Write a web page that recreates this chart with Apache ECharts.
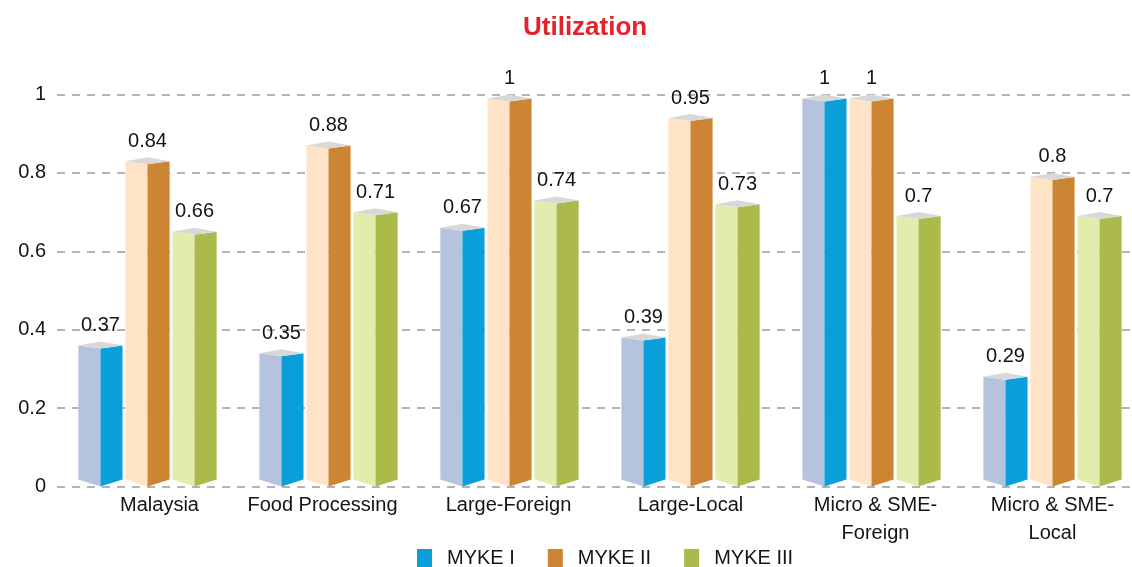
<!DOCTYPE html>
<html>
<head>
<meta charset="utf-8">
<title>Utilization</title>
<script src="https://cdn.jsdelivr.net/npm/echarts@6/dist/echarts.min.js"></script>
<style>
  html, body { margin: 0; padding: 0; background: #fff; }
  #chart { width: 1132px; height: 567px; }
</style>
</head>
<body>
<div id="chart"></div>
<script>
// Utilization by segment for each MYKE survey round
var categories = ['Malaysia', 'Food Processing', 'Large-Foreign', 'Large-Local', 'Micro & SME-Foreign', 'Micro & SME-Local'];
var seriesNames = ['MYKE I', 'MYKE II', 'MYKE III'];
var mykeI = [0.37, 0.35, 0.67, 0.39, 1, 0.29];
var mykeII = [0.84, 0.88, 1, 0.95, 1, 0.8];
var mykeIII = [0.66, 0.71, 0.74, 0.73, 0.7, 0.7];
var yTicks = [0, 0.2, 0.4, 0.6, 0.8, 1];

var FONT = '"Liberation Sans", Arial, sans-serif';

// light (left) face, dark (right) face for each prism
var faceColors = [
  ['#b5c3de', '#0a9fd9'],
  ['#ffe3c6', '#cc8532'],
  ['#e2ecad', '#abba4a']
];
var topColor = '#d8d8d8';

// horizontal nudge (px) for individual category labels
var labelNudge = [12, -6, -1, 0, 4, 0];

function prismRenderer(k) {
  return function (params, api) {
    var idx = api.value(0);
    var val = api.value(1);
    var top = api.coord([idx, val]);
    var base = api.coord([idx, 0]);
    var band = api.size([1, 0])[0];
    var x = top[0] + (k - 1) * band * 0.26;
    var hw = band * 0.122;
    var yv = top[1];
    var y0 = base[1];
    var sideTop = yv + 4, frontTop = yv + 7, sideBot = y0 - 7;
    return {
      type: 'group',
      children: [
        {
          type: 'polygon',
          shape: { points: [[x - hw, sideTop], [x, frontTop], [x, y0], [x - hw, sideBot]] },
          style: { fill: faceColors[k][0] }
        },
        {
          type: 'polygon',
          shape: { points: [[x, frontTop], [x + hw, sideTop], [x + hw, sideBot], [x, y0]] },
          style: { fill: faceColors[k][1] }
        },
        {
          type: 'polygon',
          shape: { points: [[x - hw, sideTop], [x, yv], [x + hw, sideTop], [x, frontTop]] },
          style: { fill: topColor }
        },
        {
          type: 'text',
          x: x,
          y: yv - 6,
          style: {
            text: String(val),
            fontFamily: FONT,
            fontSize: 20,
            fill: '#141414',
            align: 'center',
            verticalAlign: 'bottom'
          }
        }
      ]
    };
  };
}

function toPairs(arr) {
  return arr.map(function (v, i) { return [i, v]; });
}

var valueSets = [mykeI, mykeII, mykeIII];
var series = valueSets.map(function (vals, k) {
  return {
    name: seriesNames[k],
    type: 'custom',
    renderItem: prismRenderer(k),
    encode: { x: 0, y: 1 },
    itemStyle: { color: faceColors[k][1] },
    data: toPairs(vals)
  };
});

var rich = {};
labelNudge.forEach(function (s, i) {
  rich['c' + i] = {
    fontFamily: FONT,
    fontSize: 20,
    color: '#141414',
    lineHeight: 28,
    align: 'center',
    padding: s >= 0 ? [0, 0, 0, 2 * s] : [0, -2 * s, 0, 0]
  };
});

var chart = echarts.init(document.getElementById('chart'), null, { renderer: 'canvas' });
chart.setOption({
  animation: false,
  backgroundColor: '#ffffff',
  title: {
    text: 'Utilization',
    left: 518,
    top: 10,
    textStyle: { fontFamily: FONT, fontSize: 26, fontWeight: 'bold', color: '#e5222a' }
  },
  legend: {
    data: seriesNames,
    left: 412,
    top: 543,
    icon: 'rect',
    itemWidth: 15,
    itemHeight: 18,
    itemGap: 33,
    textStyle: { fontFamily: FONT, fontSize: 20, color: '#141414', padding: [0, 0, 0, 10] }
  },
  // plot area runs past the right edge so the dashed grid reaches the border
  grid: {
    left: 57, width: 1086, top: 94.5, bottom: 80.5,
    containLabel: false, outerBoundsMode: 'none'
  },
  xAxis: {
    type: 'category',
    data: categories,
    axisLine: { show: false },
    axisTick: { show: false },
    splitLine: { show: false },
    axisLabel: {
      interval: 0,
      margin: 5,
      formatter: function (value, index) {
        var lines = value.replace('SME-', 'SME-\n').split('\n');
        return lines.map(function (l) { return '{c' + index + '|' + l + '}'; }).join('\n');
      },
      rich: rich
    }
  },
  yAxis: {
    type: 'value',
    min: yTicks[0],
    max: yTicks[yTicks.length - 1],
    interval: 0.2,
    axisLine: { show: false },
    axisTick: { show: false },
    axisLabel: {
      margin: 11,
      fontFamily: FONT,
      fontSize: 20,
      color: '#141414'
    },
    splitLine: {
      show: true,
      lineStyle: { color: '#9a9a9a', width: 1.5, type: [8, 7] }
    }
  },
  series: series
});
</script>
</body>
</html>
